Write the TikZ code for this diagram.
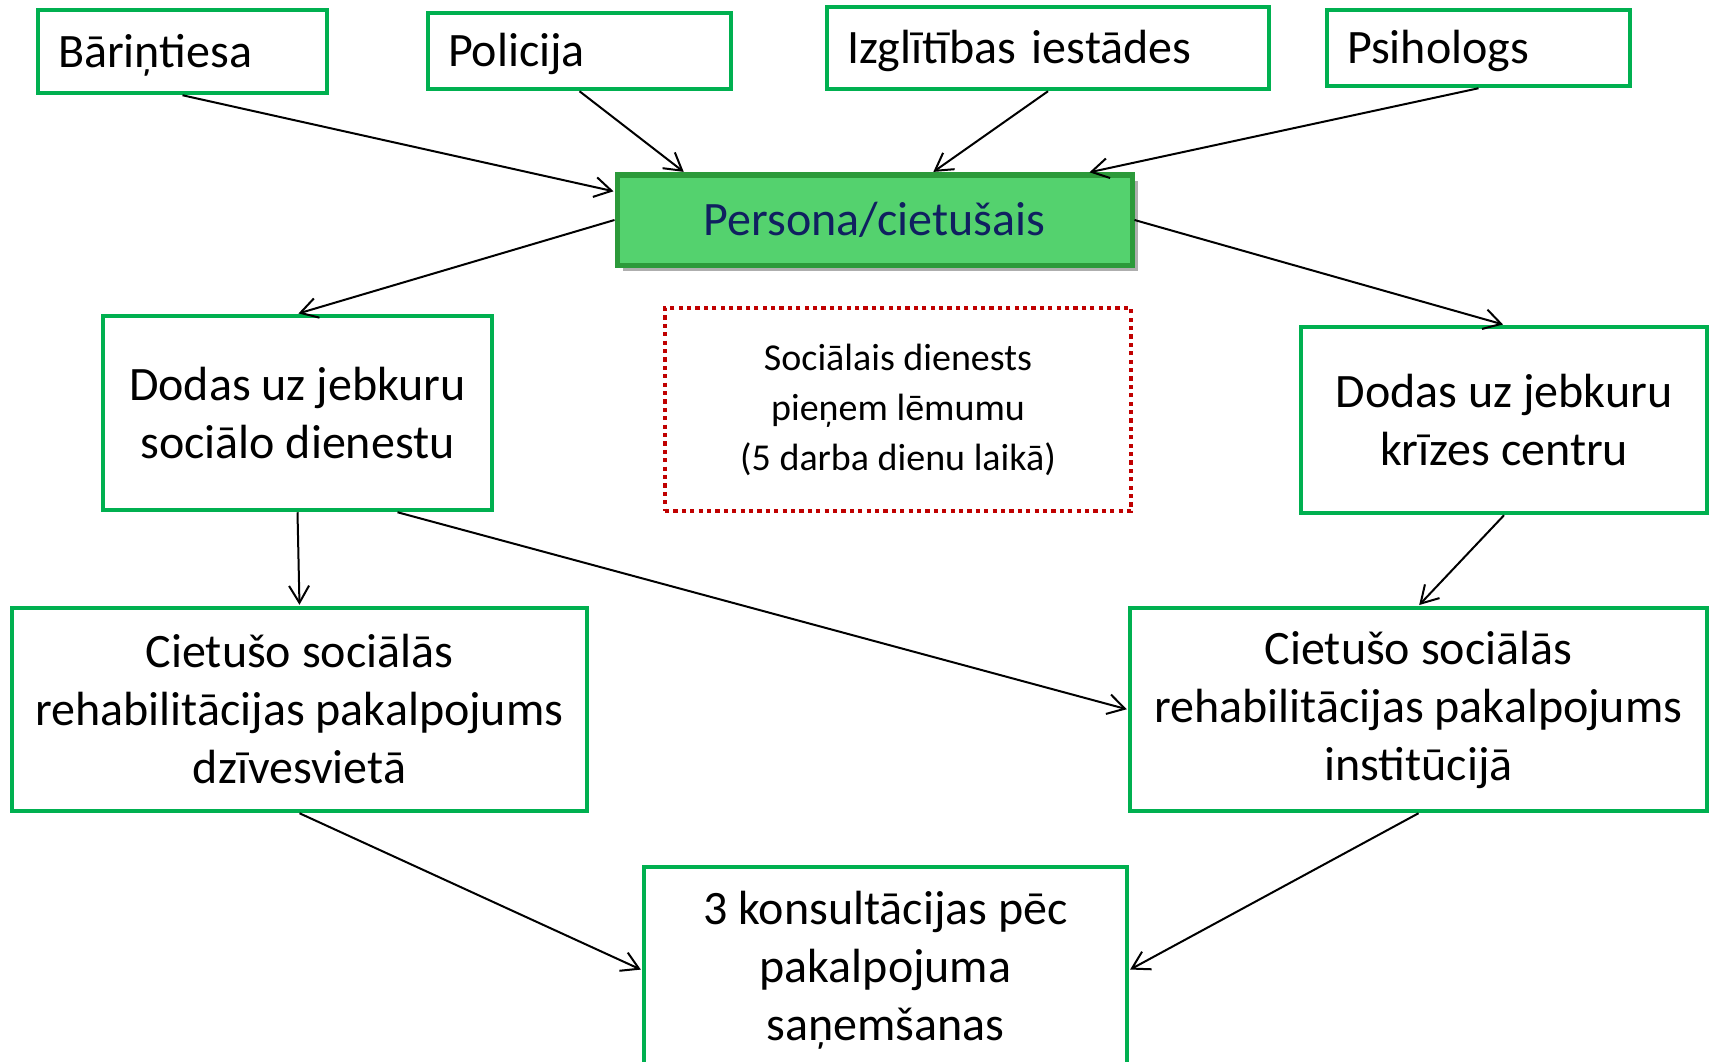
\documentclass[tikz,border=0pt]{standalone}
\usepackage{fontspec}
\setmainfont{Carlito}
\usetikzlibrary{arrows.meta,shadows,positioning}

\definecolor{boxgreen}{RGB}{0,176,80}
\definecolor{persfill}{RGB}{84,210,110}
\definecolor{persdraw}{RGB}{44,154,58}
\definecolor{persnavy}{RGB}{16,32,96}
\definecolor{lemred}{RGB}{192,0,0}

\begin{document}
\begin{tikzpicture}[x=1pt,y=-1pt,>={Straight Barb[length=17pt,width=20pt]},line width=2pt,shorten >=1pt,
		big/.style={font=\fontsize{48}{58}\selectfont},
		src/.style={draw=boxgreen,line width=4.5pt,big,align=left,inner xsep=20pt,inner ysep=0pt,text width=#1,
			text height=36pt,text depth=4pt},
		box/.style={draw=boxgreen,line width=4.5pt,big,align=center,inner sep=0pt},
		lem/.style={draw=lemred,line width=4.5pt,dash pattern=on 4.2pt off 4.2pt,align=center,inner sep=0pt,
			font=\fontsize{38}{50}\selectfont}]
				\useasboundingbox (0,0) rectangle (1711,1062);
				\clip (0,0) rectangle (1711,1062);
				% who sends the person
				\node[src=249pt,minimum height=83pt] (src_1) at (182.5,51.5) {Bāriņtiesa};
				\node[src=263pt,minimum height=76pt] (src_2) at (579.5,51) {Policija};
				\node[src=402pt,minimum height=82pt] (src_3) at (1048,48) {Izglītības iestādes};
				\node[src=263pt,minimum height=76pt] (src_4) at (1478.5,48) {Psihologs};
				\node[big,draw=persdraw,fill=persfill,text=persnavy,line width=5pt,minimum width=515pt,minimum height=90pt,
					drop shadow={shadow xshift=6pt,shadow yshift=-6pt,fill=black!45,opacity=.7}] (pers) at (874.5,220) {Persona/cietušais};
				\node[lem,minimum width=466pt,minimum height=203pt] (lem) at (898,409.5) {Sociālais dienests\\pieņem lēmumu\\(5 darba dienu laikā)};
				% two ways
				\node[box,minimum width=389pt,minimum height=194pt] (dod_1) at (297.5,413) {Dodas uz jebkuru\\sociālo dienestu};
				\node[box,minimum width=406pt,minimum height=186pt] (dod_2) at (1504,420) {Dodas uz jebkuru\\krīzes centru};
				\node[box,minimum width=575pt,minimum height=203pt] (reh_1) at (299.5,709.5) {Cietušo sociālās\\rehabilitācijas pakalpojums\\dzīvesvietā};
				\node[box,minimum width=577pt,minimum height=203pt] (reh_2) at (1418.5,709.5) {Cietušo sociālās\\rehabilitācijas pakalpojums\\institūcijā\vphantom{g}};
				\node[box,minimum width=483pt,minimum height=206pt] (kons) at (885.5,970) {3 konsultācijas pēc\\pakalpojuma\\saņemšanas};
				\path[->]
					(src_1.south) edge ([yshift=-19pt]pers.north west)
					(src_2.south) edge ([xshift=70pt]pers.north west)
					(src_3.south) edge ([xshift=58pt]pers.north)
					(src_4.south) edge ([xshift=-46pt]pers.north east)
					(pers.west) edge (dod_1.north)
					(pers.east) edge (dod_2.north)
					(dod_1.south) edge (reh_1.north)
					([xshift=100pt]dod_1.south) edge (reh_2.west)
					(dod_2.south) edge (reh_2.north)
					(reh_1.south) edge (kons.west)
					(reh_2.south) edge (kons.east);
			\end{tikzpicture}
\end{document}
